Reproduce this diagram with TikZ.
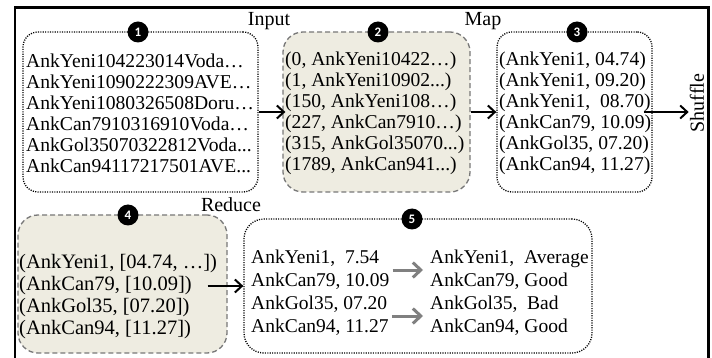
\documentclass[tikz,border=0pt]{standalone}
\usepackage{fontspec}
\setmainfont{Liberation Serif}
\newfontfamily\numfont{Carlito}
\usetikzlibrary{arrows.meta,calc}
\definecolor{beige}{RGB}{238,236,225}
\definecolor{dgray}{RGB}{120,120,120}
\definecolor{agray}{RGB}{128,128,128}
\begin{document}
\begin{tikzpicture}[x=1pt,y=-1pt,
  dotbox/.style={draw=black, line width=1.3pt, dash pattern=on 1.1pt off 1.3pt, rounded corners=15pt, fill=white, inner sep=0pt},
  dashbox/.style={draw=dgray, line width=1.3pt, dash pattern=on 5pt off 3pt, rounded corners=20pt, fill=beige, inner sep=0pt},
  txt/.style={font=\fontsize{19.6pt}{21pt}\selectfont, align=left, anchor=west, inner sep=0pt},
  txtd/.style={font=\fontsize{20.5pt}{22pt}\selectfont, align=left, anchor=west, inner sep=0pt},
  txtb/.style={font=\fontsize{19.5pt}{23pt}\selectfont, align=left, anchor=west, inner sep=0pt},
  num/.style={circle, fill=black, text=white, minimum size=21pt, inner sep=0pt, font=\numfont\bfseries\fontsize{13pt}{13pt}\selectfont},
  lbl/.style={font=\fontsize{20pt}{20pt}\selectfont, inner sep=1pt},
  arr/.style={line width=2pt, -{Straight Barb[length=7pt,width=13pt,line width=2pt]}},
  garr/.style={draw=agray, line width=3pt, -{Straight Barb[length=8pt,width=15pt,line width=3pt]}}
]
\useasboundingbox (0,0) rectangle (712,358);
\clip (0,0) rectangle (712,358);
% frame
\draw[line width=2.5pt] (15.2,370) -- (15.2,7.6) -- (708.7,7.6) -- (708.7,370);

% boxes
\node[dotbox, minimum width=235pt, minimum height=160pt] (b1) at (140.5,112) {};
\node[dashbox, minimum width=187pt, minimum height=160pt] (b2) at (376.5,112) {};
\node[dotbox, minimum width=155pt, minimum height=160pt] (b3) at (574.5,112) {};
\node[dashbox, minimum width=209pt, minimum height=138pt] (b4) at (122.5,284) {};
\node[dotbox, rounded corners=20pt, minimum width=348pt, minimum height=134pt] (b5) at (418,286) {};

% texts
\node[txt] (t1) at (26,113) {AnkYeni104223014Voda…\\AnkYeni1090222309AVE…\\AnkYeni1080326508Doru…\\AnkCan7910316910Voda…\\AnkGol35070322812Voda...\\AnkCan94117217501AVE...};
\node[txt] (t2) at (285,113) {(0, AnkYeni10422…)\\(1, AnkYeni10902...)\\(150, AnkYeni108…)\\(227, AnkCan7910…)\\(315, AnkGol35070...)\\(1789, AnkCan941...)};
\node[txt] (t3) at (499,113) {(AnkYeni1, 04.74)\\(AnkYeni1, 09.20)\\(AnkYeni1, \ 08.70)\\(AnkCan79, 10.09)\\(AnkGol35, 07.20)\\(AnkCan94, 11.27)};
\node[txtd] (t4) at (19,297) {(AnkYeni1, [04.74, …])\\(AnkCan79, [10.09])\\(AnkGol35, [07.20])\\(AnkCan94, [11.27])};
\node[txtb] (l1) at (251,270) {AnkYeni1, \ 7.54\\AnkCan79, 10.09};
\node[txtb] (l2) at (251,316) {AnkGol35, 07.20\\AnkCan94, 11.27};
\node[txtb] (r1) at (430,270) {AnkYeni1, \ Average\\AnkCan79, Good};
\node[txtb] (r2) at (430,316) {AnkGol35, \ Bad\\AnkCan94, Good};

% labels
\node[lbl] (in) at (269,21) {Input};
\node[lbl] (mp) at (483,21) {Map};
\node[lbl] (rd) at (231,205) {Reduce};
\node[lbl, rotate=90, font=\fontsize{20pt}{20pt}\selectfont] (sh) at (697,103) {Shuffle};

% step numbers
\node[num] (c1) at (138,32) {1};
\node[num] (c2) at (378,32) {2};
\node[num] (c3) at (577,32) {3};
\node[num] (c4) at (128,215) {4};
\node[num] (c5) at (412,219) {5};

% arrows
\draw[arr] (b1.east) -- ([xshift=3pt]b2.west);
\draw[arr] (b2.east) -- (b3.west);
\draw[arr] ([xshift=-9pt]b3.east) -- (b3.east -| sh.north);
\draw[arr] ([xshift=-20pt]b4.east |- b5.west) -- (b5.west);
\draw[garr, shorten <=3pt, shorten >=7pt] (l1.east) -- (r1.west);
\draw[garr, shorten <=3pt, shorten >=7pt] (l2.east) -- (r2.west);
\end{tikzpicture}
\end{document}
